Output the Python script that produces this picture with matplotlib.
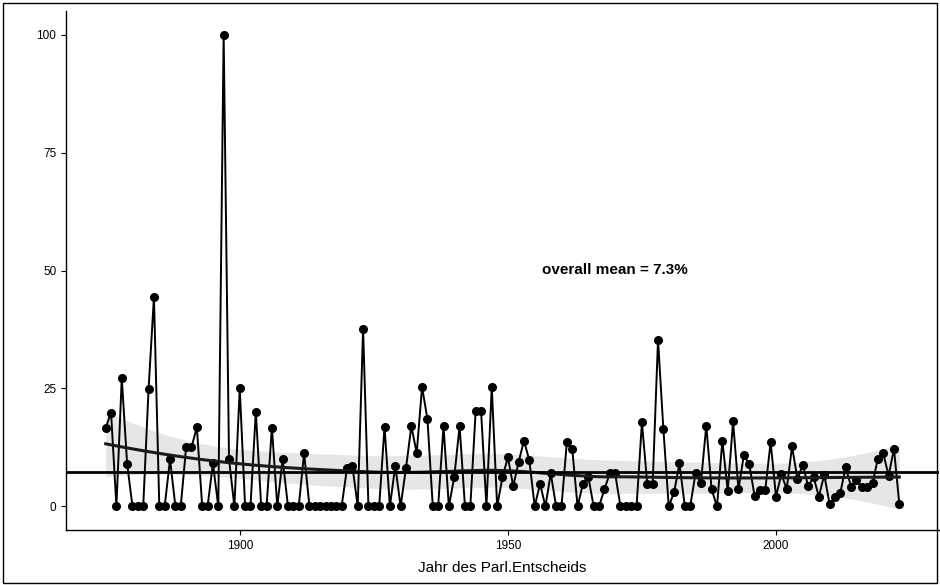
import numpy as np
import matplotlib
matplotlib.use("Agg")
import matplotlib.pyplot as plt
from matplotlib.patches import Rectangle

plt.rcParams['font.family'] = ['Liberation Sans', 'DejaVu Sans']

# share per year (%)
start_year = 1875
share = [16.6, 19.9, 0, 27.2, 9.0, 0, 0, 0, 24.9, 44.4,
         0, 0, 10.0, 0, 0, 12.5, 12.5, 16.8, 0, 0,
         9.1, 0, 100, 10.0, 0, 25.0, 0, 0, 20.1, 0,
         0, 16.7, 0, 10.0, 0, 0, 0, 11.3, 0, 0,
         0, 0, 0, 0, 0, 8.1, 8.6, 0, 37.6, 0,
         0, 0, 16.9, 0, 8.6, 0, 8.1, 17.0, 11.3, 25.3,
         18.5, 0, 0, 17.0, 0, 6.2, 17.0, 0, 0, 20.3,
         20.3, 0, 25.3, 0, 6.2, 10.4, 4.3, 9.4, 13.9, 9.8,
         0, 4.8, 0, 7.0, 0, 0, 13.6, 12.2, 0, 4.8,
         6.3, 0, 0, 3.6, 7.0, 7.0, 0, 0, 0, 0,
         17.8, 4.7, 4.7, 35.3, 16.4, 0, 3.0, 9.1, 0, 0,
         7.0, 5.0, 17.1, 3.6, 0, 13.9, 3.3, 18.0, 3.6, 10.8,
         9.0, 2.3, 3.5, 3.5, 13.6, 2.1, 6.8, 3.7, 12.7, 5.8,
         8.8, 4.3, 6.2, 2.1, 6.7, 0.5, 1.9, 2.9, 8.3, 4.2,
         5.5, 4.1, 4.1, 4.9, 10.1, 11.3, 6.5, 12.2, 0.5]
years = np.arange(start_year, start_year + len(share))
overall_mean = 7.3
x_ticks = [1900, 1950, 2000]
y_ticks = [0, 25, 50, 75, 100]
x_label = 'Jahr des Parl.Entscheids'
mean_label = 'overall mean = 7.3%'


def loess_matrix(x, grid, span=0.75):
    # local quadratic fit with tricube weights (like R's loess)
    n = len(x)
    q = int(np.floor(n * span))
    rows = []
    for x0 in grid:
        d = np.abs(x - x0)
        dmax = np.sort(d)[q - 1]
        w = np.clip(1 - (d / dmax) ** 3, 0, None) ** 3
        X = np.column_stack([np.ones(n), x - x0, (x - x0) ** 2])
        XtW = X.T * w
        rows.append(np.linalg.solve(XtW @ X, XtW)[0])
    return np.array(rows)


x = years.astype(float)
y = np.array(share, dtype=float)

L = loess_matrix(x, x)
resid = y - L @ y
M = np.eye(len(x)) - L
sigma = np.sqrt(np.sum(resid ** 2) / np.trace(M.T @ M))

grid = np.linspace(x.min(), x.max(), 120)
Lg = loess_matrix(x, grid)
fit = Lg @ y
se = sigma * np.sqrt(np.sum(Lg ** 2, axis=1))
lo, hi = fit - 1.97 * se, fit + 1.97 * se

fig = plt.figure(figsize=(9.4, 5.85), dpi=100)
ax = fig.add_axes([66 / 940, 1 - 530 / 585, (939 - 66) / 940, (530 - 11) / 585])

ax.plot(years, share, color='black', lw=1.4, marker='o', ms=5.5,
        mfc='black', mec='black', zorder=3)
ax.fill_between(grid, lo, hi, color='#a8a8a8', alpha=0.28, lw=0, zorder=2)
ax.plot(grid, fit, color='#1a1a1a', lw=2.2, zorder=4)
ax.axhline(overall_mean, color='black', lw=2, zorder=4)
ax.text(1970, 50, mean_label, ha='center', va='center', fontsize=11,
        fontweight='bold')

span = years[-1] - years[0]
ax.set_xlim(years[0] - 0.05 * span, years[-1] + 0.05 * span)
ax.set_ylim(-5, 105)
ax.set_xticks(x_ticks)
ax.set_yticks(y_ticks)
ax.tick_params(labelsize=8.5, length=3.5, width=0.8, colors='black')
ax.set_xlabel(x_label, fontsize=11, labelpad=7)
for side in ['top', 'right']:
    ax.spines[side].set_visible(False)
for side in ['left', 'bottom']:
    ax.spines[side].set_linewidth(1)

fig.patches.append(Rectangle((0.003, 0.003), 0.994, 0.992, transform=fig.transFigure,
                             fill=False, edgecolor='black', lw=1))

fig.savefig('out.png', dpi=100)
